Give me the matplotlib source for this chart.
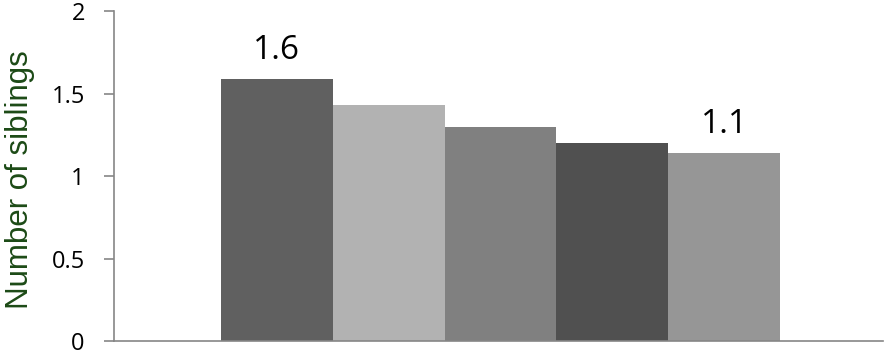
import matplotlib.pyplot as plt

# ============================================================
# DATA
# ============================================================

groups = ["A", "B", "C", "D", "E"]
siblings = [1.59, 1.43, 1.30, 1.20, 1.14]
bar_colors = ["#606060", "#b2b2b2", "#808080", "#505050", "#969696"]
labelled = [0, 4]  # bars that carry a value label

y_ticks = [0, 0.5, 1, 1.5, 2]
y_tick_labels = ["0", "0.5", "1", "1.5", "2"]

# ============================================================
# PLOT
# ============================================================

plt.rcParams["font.family"] = ["Open Sans", "DejaVu Sans"]

fig = plt.figure(figsize=(8.84, 3.56), dpi=100)
ax = fig.add_axes([0.129, 0.042, 0.870, 0.927])

x = list(range(len(groups)))
bars = ax.bar(x, siblings, width=1.0, color=bar_colors, linewidth=0)

for i in labelled:
    b = bars[i]
    ax.text(b.get_x() + b.get_width() / 2, siblings[i] + 0.12,
            f"{siblings[i]:.1f}", ha="center", va="baseline", fontsize=24)

ax.set_xlim(-1.455, 5.42)
ax.set_ylim(0, 2)
ax.set_yticks(y_ticks)
ax.set_yticklabels(y_tick_labels, fontsize=17)
ax.set_xticks([])

ax.spines["top"].set_visible(False)
ax.spines["right"].set_visible(False)
for side in ["left", "bottom"]:
    ax.spines[side].set_color("#868686")
    ax.spines[side].set_linewidth(1.2)
ax.tick_params(axis="y", colors="#868686", length=7, width=1.2,
               labelcolor="black", pad=14)

# y label placed in figure pixels so it sits where the reference has it
fig.text(20 / 884, 1 - 180 / 356, "Number of siblings", rotation=90,
         ha="center", va="center", fontsize=22.5, color="#1c4a16",
         family=["Liberation Sans", "DejaVu Sans"])

fig.savefig("out.png", dpi=100)
